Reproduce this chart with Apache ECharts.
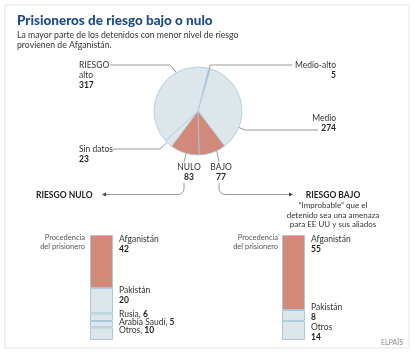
<!DOCTYPE html>
<html>
<head>
<meta charset="utf-8">
<script src="https://cdn.jsdelivr.net/npm/echarts@6/dist/echarts.min.js"></script>
<style>
  html, body { margin: 0; padding: 0; background: #fff; }
  #chart { width: 414px; height: 352px; }
</style>
</head>
<body>
<div id="chart"></div>
<script>
// nivel de riesgo (en el sentido de las agujas del reloj desde arriba)
const riskNames = ['Medio-alto', 'Medio', 'BAJO', 'NULO', 'Sin datos', 'RIESGO alto'];
const riskLabels = ['Medio-alto', 'Medio', 'BAJO', 'NULO', 'Sin datos', 'RIESGO\nalto'];
const riskValues = [5, 274, 77, 83, 23, 317];

// procedencia, de arriba abajo
const nuloOrigins = ['Afganistán', 'Pakistán', 'Rusia', 'Arabia Saudí', 'Otros'];
const nuloValues = [42, 20, 6, 5, 10];
const bajoOrigins = ['Afganistán', 'Pakistán', 'Otros'];
const bajoValues = [55, 8, 14];

const FONT = 'Lato';
const SALMON = '#d3897a';
const PALE = '#dde6eb';
const EDGE = '#a9c9db';
const LINE = '#9a9a9a';

const chart = echarts.init(document.getElementById('chart'));

// donde va cada etiqueta de la tarta: [x, y, align, puntos de la guia]
const pieLabelPos = {
  'Medio-alto': [336, 60, 'right', [[208, 73], [210, 65], [292, 65]]],
  'Medio': [336, 113, 'right', [[233, 125], [245, 130], [318, 130]]],
  'BAJO': [221, 162, 'center', [[212, 144], [217, 152], [219, 162]]],
  'NULO': [189, 162, 'center', [[188, 147], [186, 154], [184, 162]]],
  'Sin datos': [79, 144, 'left', [[172, 138], [160, 149], [113, 149]]],
  'RIESGO alto': [79, 60, 'left', [[181, 78], [170, 65], [110, 65]]]
};

const pieColors = ['#8db7cf', PALE, SALMON, SALMON, PALE, PALE];

function sum(a) { return a.reduce((s, v) => s + v, 0); }

// estilo de etiquetas de barra: [tipo, desplazamiento vertical desde el borde superior]
const barLabelStyle = {
  nulo: { 'Afganistán': ['top', -1], 'Pakistán': ['top', -3], 'Rusia': ['line', 1], 'Arabia Saudí': ['line', 1], 'Otros': ['line', 2.5] },
  bajo: { 'Afganistán': ['top', -1], 'Pakistán': ['top', -8], 'Otros': ['top', 1] }
};

function stackSeries(origins, values, idx, key) {
  const out = [];
  for (let i = origins.length - 1; i >= 0; i--) {
    const name = origins[i];
    const st = barLabelStyle[key][name];
    const inline = st[0] === 'line';
    out.push({
      type: 'bar',
      name: name,
      stack: key,
      xAxisIndex: idx,
      yAxisIndex: idx,
      barWidth: '100%',
      data: [values[i]],
      itemStyle: { color: i === 0 ? SALMON : PALE, borderColor: EDGE, borderWidth: 1 },
      emphasis: { disabled: true },
      label: {
        show: true,
        position: ['100%', 0],
        align: 'left',
        verticalAlign: inline ? 'middle' : 'top',
        offset: [6, st[1]],
        fontFamily: FONT,
        lineHeight: 10,
        formatter: p => inline
          ? '{n|' + p.seriesName + ', }{v|' + p.value + '}'
          : '{n|' + p.seriesName + '}\n{v|' + p.value + '}',
        rich: {
          n: { fontFamily: FONT, fontSize: 8.5, color: '#333', lineHeight: 10 },
          v: { fontFamily: FONT, fontSize: 8.5, color: '#222', fontWeight: 'bold', lineHeight: 10 }
        }
      }
    });
  }
  return out;
}

// esquina redondeada de las flechas
function corner(x, dir) {
  const pts = [[x, 183]];
  for (let k = 0; k <= 6; k++) {
    const a = k / 6 * Math.PI / 2;
    pts.push([x + dir * (6 - 6 * Math.cos(a)), 188.5 + 6 * Math.sin(a)]);
  }
  return pts;
}

const option = {
  animation: false,
  title: {
    left: 12,
    top: 9,
    text: 'Prisioneros de riesgo bajo o nulo',
    subtext: 'La mayor parte de los detenidos con menor nivel de riesgo\nprovienen de Afganistán.',
    itemGap: 2,
    textStyle: { fontFamily: FONT, fontSize: 13.5, fontWeight: 900, color: '#1f4c8c' },
    subtextStyle: { fontFamily: FONT, fontSize: 8.7, color: '#333', lineHeight: 10 }
  },
  grid: [
    { left: 90, top: 235, width: 23, height: 105 },
    { left: 282, top: 235, width: 23, height: 105 }
  ],
  xAxis: [
    { type: 'category', gridIndex: 0, data: ['NULO'], show: false },
    { type: 'category', gridIndex: 1, data: ['BAJO'], show: false }
  ],
  yAxis: [
    { type: 'value', gridIndex: 0, min: 0, max: sum(nuloValues), show: false },
    { type: 'value', gridIndex: 1, min: 0, max: sum(bajoValues), show: false }
  ],
  graphic: [
    { type: 'rect', z: -10, shape: { x: 5, y: 5, width: 404, height: 343 },
      style: { fill: '#fff', stroke: '#e4e4e4', lineWidth: 1 } },
    // flechas
    { type: 'polyline', shape: { points: corner(184, -1).concat([[106, 194.5]]) },
      style: { fill: null, stroke: LINE, lineWidth: 1 } },
    { type: 'polygon', shape: { points: [[102, 194.5], [106, 192.5], [106, 196.5]] }, style: { fill: '#444' } },
    { type: 'polyline', shape: { points: corner(219, 1).concat([[289, 194.5]]) },
      style: { fill: null, stroke: LINE, lineWidth: 1 } },
    { type: 'polygon', shape: { points: [[293, 194.5], [289, 192.5], [289, 196.5]] }, style: { fill: '#444' } },
    { type: 'text', x: 36, y: 191, style: { text: 'RIESGO NULO', fontFamily: FONT, fontSize: 8.5, fontWeight: 'bold', fill: '#222' } },
    { type: 'text', x: 333, y: 191, style: { text: 'RIESGO BAJO', align: 'center', fontFamily: FONT, fontSize: 8.5, fontWeight: 'bold', fill: '#222' } },
    { type: 'text', x: 333, y: 201, style: { text: '“Improbable” que el\ndetenido sea una amenaza\npara EE UU y sus aliados', align: 'center', lineHeight: 9.5, fontFamily: FONT, fontSize: 8, fill: '#333' } },
    { type: 'text', x: 85, y: 233, style: { text: 'Procedencia\ndel prisionero', align: 'right', lineHeight: 9, fontFamily: FONT, fontSize: 7.5, fill: '#555' } },
    { type: 'text', x: 278, y: 233, style: { text: 'Procedencia\ndel prisionero', align: 'right', lineHeight: 9, fontFamily: FONT, fontSize: 7.5, fill: '#555' } },
    { type: 'text', x: 403, y: 339, style: { text: 'ELPAÍS', align: 'right', fontFamily: FONT, fontSize: 7, fill: '#8a8a8a' } }
  ],
  series: [
    {
      type: 'pie',
      center: [198, 111],
      radius: 44,
      startAngle: 76,
      clockwise: true,
      avoidLabelOverlap: false,
      emphasis: { disabled: true },
      itemStyle: { borderColor: EDGE, borderWidth: 0.8 },
      data: riskNames.map((n, i) => ({ name: n, value: riskValues[i], itemStyle: { color: pieColors[i] } })),
      label: {
        show: true,
        position: 'outside',
        fontFamily: FONT,
        formatter: p => '{n|' + riskLabels[p.dataIndex] + '}\n{v|' + p.value + '}',
        rich: {
          n: { fontFamily: FONT, fontSize: 8.5, color: '#333', lineHeight: 10 },
          v: { fontFamily: FONT, fontSize: 8.5, color: '#222', fontWeight: 'bold', lineHeight: 10 }
        }
      },
      labelLine: { show: true, lineStyle: { color: LINE, width: 1 } },
      labelLayout: p => {
        const pos = pieLabelPos[riskNames[p.dataIndex]];
        return { x: pos[0], y: pos[1], align: pos[2], verticalAlign: 'top', labelLinePoints: pos[3] };
      }
    }
  ].concat(stackSeries(nuloOrigins, nuloValues, 0, 'nulo'), stackSeries(bajoOrigins, bajoValues, 1, 'bajo'))
};

chart.setOption(option);
</script>
</body>
</html>
